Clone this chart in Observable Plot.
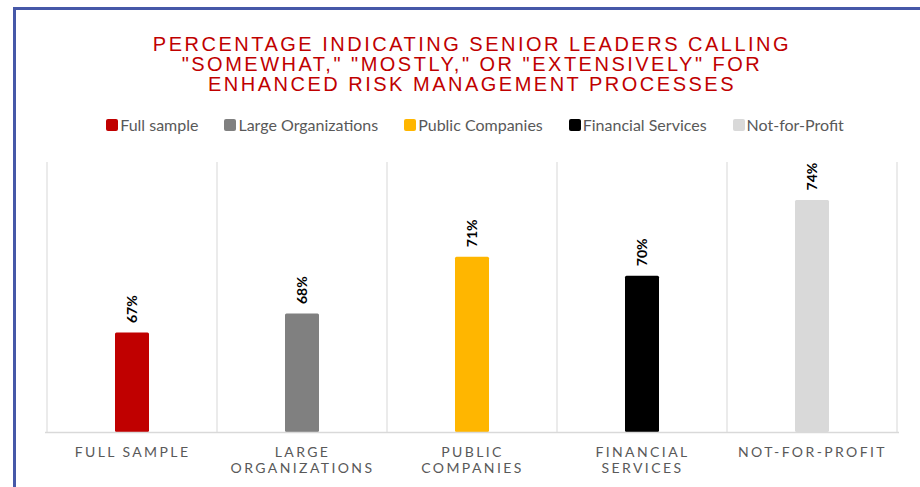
<!DOCTYPE html>
<html>
<head>
<meta charset="utf-8">
<script src="https://cdn.jsdelivr.net/npm/d3@7"></script>
<script src="https://cdn.jsdelivr.net/npm/@observablehq/plot@0.6"></script>
<style>
  html, body { margin: 0; padding: 0; background: #fff; }
  body { width: 920px; height: 487px; position: relative; overflow: hidden; }
  #frame { position: absolute; left: 13px; top: 7px; width: 1000px; height: 600px;
    border-left: 3px solid #4658a8; border-top: 3px solid #4658a8; box-sizing: border-box; }
  #title { position: absolute; left: 0; top: 34px; width: 944px; text-align: center;
    font-family: "Liberation Sans", Arial, sans-serif; font-size: 20px; line-height: 20px;
    letter-spacing: 2.5px; color: #c00000; }
  #legend { position: absolute; left: 30px; top: 116px; width: 890px; display: flex; justify-content: center;
    gap: 26px; font-family: Lato, sans-serif; font-size: 16px; color: #595959; line-height: 18px; }
  .item { display: flex; align-items: center; }
  .sw { width: 12px; height: 12px; border-radius: 2px; margin-right: 2px; }
  #chart { position: absolute; left: 0; top: 140px; }
</style>
</head>
<body>
<div id="frame"></div>
<div id="title"></div>
<div id="legend"></div>
<div id="chart"></div>
<script>
const titleLines = [
  "PERCENTAGE INDICATING SENIOR LEADERS CALLING",
  "\"SOMEWHAT,\" \"MOSTLY,\" OR \"EXTENSIVELY\" FOR",
  "ENHANCED RISK MANAGEMENT PROCESSES"
];
const categories = ["Full sample", "Large Organizations", "Public Companies", "Financial Services", "Not-for-Profit"];
const axisLabels = ["FULL SAMPLE", "LARGE\nORGANIZATIONS", "PUBLIC\nCOMPANIES", "FINANCIAL\nSERVICES", "NOT-FOR-PROFIT"];
const values = [67, 68, 71, 70, 74];
const colors = ["#c00000", "#808080", "#ffb600", "#000000", "#d9d9d9"];
const yDomain = [61.75, 76];

// Title
const t = document.getElementById("title");
titleLines.forEach((l, i) => { if (i) t.appendChild(document.createElement("br")); t.appendChild(document.createTextNode(l)); });

// Legend
const lg = document.getElementById("legend");
categories.forEach((c, i) => {
  const it = document.createElement("div"); it.className = "item";
  const sw = document.createElement("div"); sw.className = "sw"; sw.style.background = colors[i];
  const tx = document.createElement("span"); tx.textContent = c;
  it.appendChild(sw); it.appendChild(tx); lg.appendChild(it);
});

const data = categories.map((c, i) => ({cat: c, value: values[i], label: axisLabels[i], base: yDomain[0]}));

const separators = (index, scales, values, dimensions) => {
  const x = scales.x;
  const bw = x.bandwidth();
  const g = d3.create("svg:g").attr("aria-label", "separators");
  const xs = categories.map(c => x(c)).concat([x(categories[categories.length - 1]) + bw]);
  g.selectAll("line").data(xs).join("line")
    .attr("x1", d => d).attr("x2", d => d)
    .attr("y1", dimensions.marginTop).attr("y2", dimensions.height - dimensions.marginBottom)
    .attr("stroke", "#e0e0e0").attr("stroke-width", 1.3);
  return g.node();
};

const chart = Plot.plot({
  width: 920,
  height: 347,
  marginLeft: 45,
  marginRight: 21,
  marginTop: 22,
  marginBottom: 55,
  x: {domain: categories, padding: 0, axis: null},
  y: {domain: yDomain, axis: null},
  color: {domain: categories, range: colors},
  style: {background: "transparent"},
  marks: [
    separators,
    Plot.barY(data, {x: "cat", y1: "base", y2: "value", fill: "cat", insetLeft: 68, insetRight: 68, rx: 1.5}),
    Plot.ruleY([yDomain[0]], {stroke: "#d9d9d9", strokeWidth: 1.5}),
    Plot.text(data, {x: "cat", y: "value", text: d => d.value + "%", rotate: -90, textAnchor: "start", dy: -10,
      fontSize: 14, fontWeight: "bold", fontFamily: "Lato, sans-serif", fill: "#000"}),
    Plot.text(data, {x: "cat", y: "base", text: "label", lineAnchor: "top", dy: 13, lineHeight: 1.15,
      fontSize: 14, fontFamily: "Lato, sans-serif", fill: "#595959"})
  ]
});
d3.select(chart).selectAll('g[fill="#595959"] text').style("letter-spacing", "2.4px");
document.getElementById("chart").appendChild(chart);
</script>
</body>
</html>
